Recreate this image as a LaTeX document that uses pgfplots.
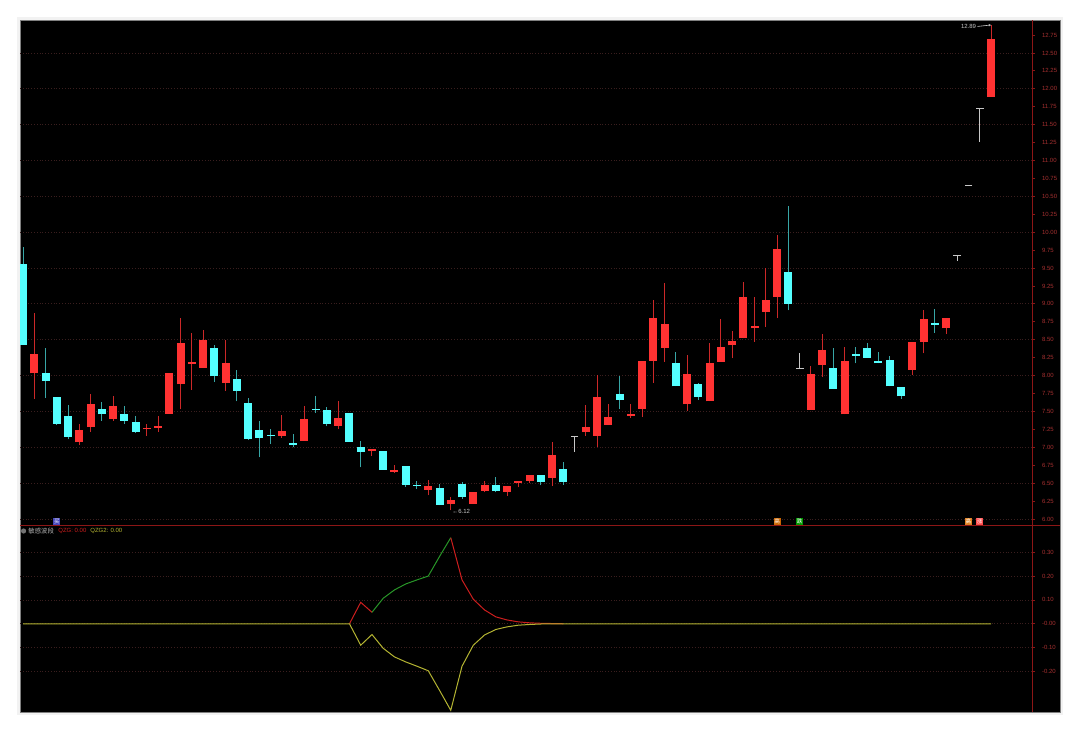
\documentclass[border=0pt]{standalone}
\usepackage{pgfplots}
\pgfplotsset{compat=1.18}
\usepackage{pgfplotstable}
\usepackage{fontspec}
\setmainfont{Liberation Sans}
\newfontfamily\cjk{Noto Sans CJK SC}
\usetikzlibrary{arrows.meta}

\definecolor{upred}{RGB}{255,50,50}
\definecolor{dncyan}{RGB}{84,255,255}
\definecolor{flatgray}{RGB}{200,200,200}
\definecolor{axred}{RGB}{140,22,22}
\definecolor{lblred}{RGB}{165,48,48}
\definecolor{gridc}{RGB}{58,30,30}
\definecolor{qzgred}{RGB}{205,30,30}
\definecolor{qzggreen}{RGB}{40,150,40}
\definecolor{qzgyel}{RGB}{180,180,50}

% day index, open, high, low, close
\pgfplotstableread{
i o h l c
1 8.03 8.87 7.68 8.30
5 7.07 7.32 7.03 7.24
6 7.28 7.75 7.22 7.60
8 7.39 7.71 7.37 7.57
11 7.25 7.32 7.16 7.27
12 7.27 7.43 7.21 7.30
13 7.47 8.03 7.47 8.03
14 7.88 8.80 7.53 8.45
15 8.16 8.60 7.80 8.19
16 8.11 8.64 8.11 8.50
18 7.90 8.49 7.79 8.18
23 7.16 7.45 7.13 7.23
25 7.09 7.58 7.09 7.39
28 7.30 7.64 7.25 7.41
31 6.95 6.98 6.88 6.98
33 6.66 6.75 6.64 6.69
36 6.41 6.54 6.33 6.46
38 6.21 6.31 6.12 6.27
40 6.21 6.38 6.21 6.37
41 6.39 6.53 6.37 6.47
43 6.38 6.46 6.32 6.46
44 6.50 6.53 6.44 6.53
45 6.53 6.62 6.50 6.62
47 6.57 7.08 6.46 6.89
50 7.21 7.59 7.16 7.28
51 7.16 8.01 7.00 7.70
52 7.31 7.60 7.31 7.42
54 7.44 7.60 7.41 7.47
55 7.54 8.21 7.42 8.21
56 8.21 9.05 7.90 8.80
57 8.39 9.29 8.19 8.72
59 7.60 8.29 7.51 8.02
61 7.64 8.45 7.64 8.18
62 8.19 8.79 8.19 8.40
63 8.42 8.62 8.24 8.48
64 8.52 9.30 8.52 9.10
65 8.66 9.10 8.47 8.69
66 8.89 9.50 8.68 9.05
67 9.10 9.96 8.80 9.77
70 7.52 8.13 7.52 8.02
71 8.15 8.58 7.98 8.36
73 7.46 8.40 7.46 8.20
79 8.08 8.47 8.01 8.47
80 8.47 8.91 8.31 8.79
82 8.66 8.81 8.58 8.81
86 11.89 12.89 11.89 12.70
}\upk

\pgfplotstableread{
i o h l c
0 9.56 9.79 8.43 8.43
2 8.03 8.39 7.69 7.93
3 7.70 7.70 7.31 7.33
4 7.43 7.59 7.11 7.15
7 7.54 7.63 7.37 7.46
9 7.47 7.57 7.33 7.37
10 7.35 7.43 7.20 7.21
17 8.39 8.43 7.91 7.99
19 7.95 8.08 7.64 7.79
20 7.62 7.69 7.10 7.12
21 7.24 7.36 6.86 7.13
22 7.17 7.25 7.05 7.16
24 7.06 7.19 7.00 7.03
26 7.54 7.72 7.48 7.52
27 7.52 7.56 7.29 7.33
29 7.48 7.48 7.08 7.08
30 7.01 7.09 6.72 6.94
32 6.95 6.95 6.69 6.69
34 6.74 6.74 6.45 6.48
35 6.47 6.53 6.42 6.46
37 6.43 6.49 6.19 6.20
39 6.49 6.52 6.28 6.30
42 6.48 6.59 6.37 6.39
46 6.62 6.62 6.47 6.52
48 6.70 6.79 6.48 6.51
53 7.75 7.99 7.54 7.66
58 8.18 8.33 7.85 7.85
60 7.88 7.90 7.66 7.70
68 9.45 10.37 8.91 9.00
72 8.10 8.39 7.81 7.81
74 8.30 8.40 8.17 8.28
75 8.39 8.45 8.25 8.25
76 8.20 8.33 8.17 8.17
77 8.22 8.27 7.85 7.85
78 7.84 7.84 7.68 7.71
81 8.73 8.93 8.60 8.71
}\downk

\pgfplotstableread{
i o h l c
49 7.15 7.15 6.94 7.15
69 8.10 8.31 8.10 8.10
83 9.68 9.68 9.60 9.68
84 10.65 10.65 10.65 10.65
85 11.72 11.72 11.26 11.72
}\flatk

\begin{document}
\begin{tikzpicture}
\fill[white] (0,0) rectangle (540pt,366.5pt);
\fill[black!5] (8.5pt,9pt) rectangle (531.5pt,358pt);
\fill[black] (10pt,10.5pt) rectangle (530pt,356.5pt);
\draw[black!50, line width=0.4pt] (10pt,10.5pt) rectangle (530pt,356.5pt);

% price panel
\begin{axis}[
  at={(10pt,103.5pt)}, anchor=south west,
  width=506pt, height=253pt, scale only axis,
  xmin=-0.27, xmax=89.64, ymin=5.902, ymax=12.96,
  axis x line=none, axis y line*=right,
  axis line style={axred, line width=0.5pt},
  xtick=\empty,
  ytick={6,6.25,...,12.8},
  tick align=outside, major tick length=1.5pt,
  every tick/.style={axred, line width=0.4pt},
  yticklabel style={font=\fontsize{3.0}{3.4}\selectfont, text=lblred, anchor=west, xshift=0pt,
    /pgf/number format/fixed, /pgf/number format/fixed zerofill,
    /pgf/number format/precision=2, /pgf/number format/assume math mode=true},
  extra y ticks={6,6.5,...,12.6},
  extra y tick labels={},
  extra y tick style={grid=major, major tick length=0pt},
  major grid style={gridc, densely dotted, line width=0.4pt},
]
% wicks
\addplot[draw=none, no markers, forget plot,
  error bars/.cd, y dir=plus, y explicit, error mark=none,
  error bar style={draw=upred!80!black, line width=0.5pt}]
  table[x=i, y=l, y error plus expr=\thisrow{h}-\thisrow{l}] {\upk};
\addplot[draw=none, no markers, forget plot,
  error bars/.cd, y dir=plus, y explicit, error mark=none,
  error bar style={draw=dncyan!65!black, line width=0.5pt}]
  table[x=i, y=l, y error plus expr=\thisrow{h}-\thisrow{l}] {\downk};
\addplot[draw=none, no markers, forget plot,
  error bars/.cd, y dir=plus, y explicit, error mark=none,
  error bar style={draw=flatgray, line width=0.5pt}]
  table[x=i, y=l, y error plus expr=\thisrow{h}-\thisrow{l}] {\flatk};
% bodies
\addplot[draw=none, no markers, forget plot,
  error bars/.cd, y dir=plus, y explicit, error mark=none,
  error bar style={draw=upred, line width=4pt}]
  table[x=i, y=o, y error plus expr=\thisrow{c}-\thisrow{o}] {\upk};
\addplot[draw=none, no markers, forget plot,
  error bars/.cd, y dir=plus, y explicit, error mark=none,
  error bar style={draw=dncyan, line width=4pt}]
  table[x=i, y=c, y error plus expr=\thisrow{o}-\thisrow{c}] {\downk};
\addplot[only marks, mark=-, mark size=1.9pt, flatgray, mark options={line width=0.6pt}, forget plot]
  table[x=i, y=o] {\flatk};

% annotations
\node[anchor=west, inner sep=0pt, text=flatgray, font=\fontsize{3.0}{3.4}\selectfont] at (axis cs:38.1,6.10) {←6.12};
\node[anchor=east, inner sep=0pt, text=flatgray, font=\fontsize{3.0}{3.4}\selectfont] (hi) at (axis cs:84.7,12.87) {12.89};
\draw[flatgray, line width=0.3pt, -{Stealth[length=1.2pt,width=1.2pt]}] ([xshift=0.5pt]hi.east) -- (axis cs:86,12.89);

\node[fill=blue!45!gray, inner sep=0pt, minimum size=3.6pt, text=white, font=\cjk\fontsize{2.8}{3}\selectfont] at (axis cs:3,5.97) {买};
\node[fill=orange!80!black, inner sep=0pt, minimum size=3.6pt, text=white, font=\cjk\fontsize{2.8}{3}\selectfont] at (axis cs:67,5.97) {高};
\node[fill=green!60!black, inner sep=0pt, minimum size=3.6pt, text=white, font=\cjk\fontsize{2.8}{3}\selectfont] at (axis cs:69,5.97) {跌};
\node[fill=orange!50!brown, inner sep=0pt, minimum size=3.6pt, text=white, font=\cjk\fontsize{2.8}{3}\selectfont] at (axis cs:84,5.97) {高};
\node[fill=red!60!pink, inner sep=0pt, minimum size=3.6pt, text=white, font=\cjk\fontsize{2.8}{3}\selectfont] at (axis cs:85,5.97) {涨};
\end{axis}

\draw[axred, line width=0.5pt] (10pt,103.5pt) -- (530pt,103.5pt);

% indicator panel
\begin{axis}[
  at={(10pt,10.5pt)}, anchor=south west,
  width=506pt, height=93pt, scale only axis,
  xmin=-0.27, xmax=89.64, ymin=-0.370, ymax=0.410,
  axis x line=none, axis y line*=right,
  axis line style={axred, line width=0.5pt},
  xtick=\empty,
  ytick={-0.2,-0.1,0,0.1,0.2,0.3},
  yticklabels={-0.20,-0.10,-0.00,0.10,0.20,0.30},
  tick align=outside, major tick length=1.5pt,
  every tick/.style={axred, line width=0.4pt},
  yticklabel style={font=\fontsize{3.0}{3.4}\selectfont, text=lblred, anchor=west, xshift=0pt},
  grid=major,
  major grid style={gridc, densely dotted, line width=0.4pt},
]
\addplot[qzgred, line width=0.5pt] coordinates {(29,0) (30,0.090) (31,0.048)};
\addplot[qzggreen, line width=0.5pt] coordinates {(31,0.048) (32,0.107) (33,0.142) (34,0.167) (35,0.184) (36,0.200) (37,0.282) (38,0.361)};
\addplot[qzgred, line width=0.5pt] coordinates {(38,0.361) (39,0.184) (40,0.103) (41,0.058) (42,0.029) (43,0.016) (44,0.008) (45,0.004) (46,0.002) (47,0.001) (48,0)};
\addplot[qzgyel, line width=0.5pt] coordinates {(0,0) (29,0) (30,-0.090) (31,-0.045) (32,-0.103) (33,-0.139) (34,-0.160) (35,-0.178) (36,-0.197) (37,-0.279) (38,-0.363) (39,-0.178) (40,-0.090) (41,-0.047) (42,-0.024) (43,-0.013) (44,-0.006) (45,-0.003) (46,-0.001) (47,0) (86,0)};
\end{axis}

% indicator title
\fill[black!55] (11.8pt,101pt) circle (1.3pt);
\node[anchor=west, inner sep=0pt, text=black!30, font=\cjk\fontsize{3.2}{3.6}\selectfont] at (14pt,101pt) {敏感波段};
\node[anchor=west, inner sep=0pt, text=qzgred, font=\fontsize{3.0}{3.4}\selectfont] at (29pt,101pt) {QZG: 0.00};
\node[anchor=west, inner sep=0pt, text=qzgyel, font=\fontsize{3.0}{3.4}\selectfont] at (45pt,101pt) {QZG2: 0.00};
\end{tikzpicture}
\end{document}
